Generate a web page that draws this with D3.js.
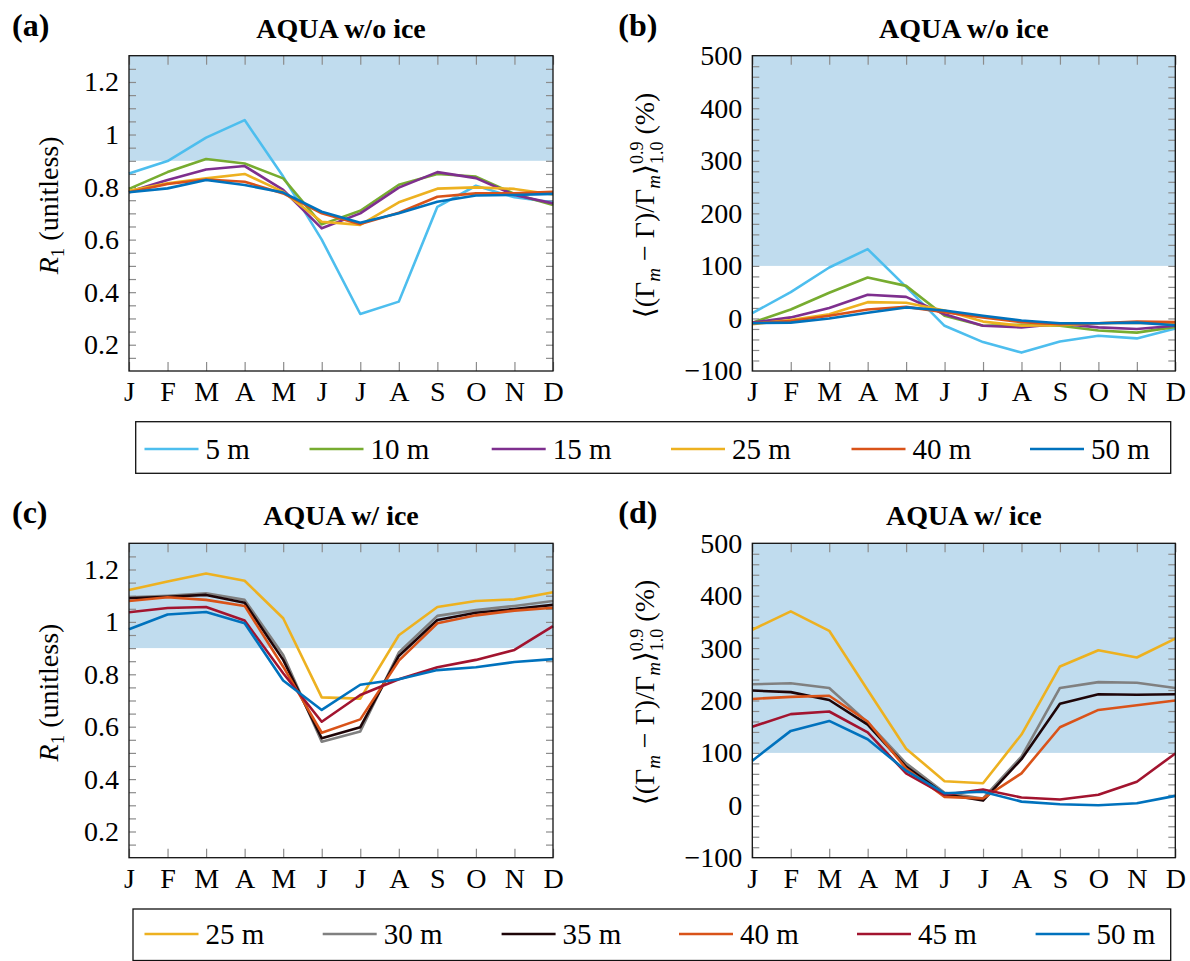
<!DOCTYPE html>
<html>
<head>
<meta charset="utf-8">
<script src="https://cdn.jsdelivr.net/npm/d3@7"></script>
<style>
  body { margin: 0; background: #fff; }
  svg text { font-family: "Liberation Serif", "Times New Roman", Times, "Nimbus Roman", "DejaVu Serif", "Noto Serif", serif; fill: #000; }
</style>
</head>
<body>
<div class="chart-box"></div>
<script>
// month labels on x
const months = ["J", "F", "M", "A", "M", "J", "J", "A", "S", "O", "N", "D"];
const r1Ticks = [0.2, 0.4, 0.6, 0.8, 1, 1.2];
const pctTicks = [-100, 0, 100, 200, 300, 400, 500];

// legends
const depthsNoIce = ["5 m", "10 m", "15 m", "25 m", "40 m", "50 m"];
const depthsIce = ["25 m", "30 m", "35 m", "40 m", "45 m", "50 m"];
const colorsNoIce = ["#4dbeee", "#77ac30", "#7e2f8e", "#edb120", "#d95319", "#0072bd"];
const colorsIce = ["#edb120", "#808080", "#1e0508", "#d95319", "#a2142f", "#0072bd"];

// (a) R1, AQUA w/o ice, one row per depth (5,10,15,25,40,50 m)
const r1NoIce = [
  [0.852, 0.899, 0.988, 1.055, 0.84, 0.60, 0.317, 0.364, 0.725, 0.805, 0.761, 0.742],
  [0.793, 0.857, 0.907, 0.890, 0.833, 0.658, 0.710, 0.809, 0.850, 0.840, 0.774, 0.732],
  [0.782, 0.827, 0.867, 0.880, 0.789, 0.643, 0.700, 0.798, 0.857, 0.834, 0.770, 0.738],
  [0.786, 0.814, 0.833, 0.850, 0.782, 0.668, 0.656, 0.742, 0.794, 0.799, 0.793, 0.772],
  [0.780, 0.812, 0.829, 0.820, 0.776, 0.700, 0.659, 0.702, 0.763, 0.776, 0.776, 0.782],
  [0.780, 0.795, 0.827, 0.808, 0.779, 0.706, 0.664, 0.700, 0.744, 0.768, 0.770, 0.774]
];
// (b) percentage, AQUA w/o ice
const pctNoIce = [
  [10, 50, 97, 132, 60, -14, -45, -65, -44, -33, -38, -19],
  [-8, 17, 49, 78, 62, 5, -14, -12, -14, -23, -27, -16],
  [-8, 2, 20, 45, 41, 8, -14, -17, -10, -17, -20, -14],
  [-11, -3, 8, 31, 30, 15, -6, -14, -13, -9, -8, -10],
  [-9, -5, 5, 17, 22, 12, 2, -7, -11, -9, -6, -7],
  [-9, -8, 0, 11, 21, 15, 5, -4, -9, -9, -8, -13]
];
// (c) R1, AQUA w/ ice (25,30,35,40,45,50 m)
const r1Ice = [
  [1.122, 1.154, 1.185, 1.157, 1.014, 0.712, 0.707, 0.949, 1.057, 1.080, 1.086, 1.113],
  [1.094, 1.100, 1.109, 1.084, 0.874, 0.543, 0.582, 0.883, 1.023, 1.045, 1.061, 1.080],
  [1.090, 1.096, 1.103, 1.073, 0.855, 0.556, 0.598, 0.870, 1.007, 1.035, 1.049, 1.065],
  [1.080, 1.094, 1.084, 1.061, 0.829, 0.577, 0.628, 0.852, 0.995, 1.025, 1.043, 1.054],
  [1.037, 1.053, 1.057, 1.005, 0.804, 0.619, 0.721, 0.781, 0.827, 0.855, 0.893, 0.984],
  [0.972, 1.028, 1.038, 0.995, 0.776, 0.664, 0.760, 0.781, 0.816, 0.827, 0.847, 0.858]
];
// (d) percentage, AQUA w/ ice
const pctIce = [
  [335, 370, 333, 220, 108, 46, 42, 135, 265, 296, 282, 318],
  [231, 233, 224, 158, 80, 24, 13, 93, 224, 235, 234, 224],
  [219, 216, 201, 154, 74, 21, 9, 88, 194, 212, 211, 212],
  [203, 207, 209, 160, 70, 16, 13, 61, 149, 182, 191, 200],
  [150, 174, 179, 139, 61, 20, 30, 15, 11, 20, 45, 99],
  [85, 142, 161, 126, 66, 23, 26, 7, 2, 0, 4, 18]
];

let width = 1190, height = 961;
let svg = d3.select(".chart-box")
  .append("svg")
  .attr("width", width)
  .attr("height", height);

const fontSize = 28;
const serif = "'Liberation Serif', 'Times New Roman', Times, 'Nimbus Roman', 'DejaVu Serif', 'Noto Serif', serif";

let drawPanel = function (p) {
  let x = d3.scalePoint().domain(d3.range(12)).range([p.x0, p.x1]);
  let y = d3.scaleLinear().domain(p.dom).range([p.y1, p.y0]);
  let g = svg.append("g");

  // shaded band above threshold
  g.append("rect")
    .attr("x", p.x0).attr("y", y(p.dom[1]))
    .attr("width", p.x1 - p.x0)
    .attr("height", y(p.shade) - y(p.dom[1]))
    .attr("fill", "#c0dcee");

  // minor y ticks, both sides
  let minor = d3.range(p.dom[0] + p.minor, p.dom[1] - p.minor / 2, p.minor);
  g.append("g").attr("transform", `translate(${p.x0},0)`)
    .call(d3.axisLeft(y).tickValues(minor).tickSizeInner(-7).tickSizeOuter(0).tickFormat(""));
  g.append("g").attr("transform", `translate(${p.x1},0)`)
    .call(d3.axisRight(y).tickValues(minor).tickSizeInner(-7).tickSizeOuter(0).tickFormat(""));
  // month ticks top & bottom
  g.append("g").attr("transform", `translate(0,${p.y0})`)
    .call(d3.axisTop(x).tickSizeInner(-9).tickSizeOuter(0).tickFormat(""));
  g.append("g").attr("transform", `translate(0,${p.y1})`)
    .call(d3.axisBottom(x).tickSizeInner(-9).tickSizeOuter(0).tickPadding(10)
      .tickFormat(i => months[i]));
  // y labels
  g.append("g").attr("transform", `translate(${p.x0},0)`)
    .call(d3.axisLeft(y).tickValues(p.ticks).tickSize(0).tickPadding(10)
      .tickFormat(p.fmt));

  g.selectAll(".domain").remove();
  g.selectAll(".tick line").attr("stroke", "#8c8c8c").attr("stroke-width", 1.2);
  g.selectAll("g").attr("font-family", serif);
  g.selectAll(".tick text")
    .style("font-family", serif)
    .attr("font-size", fontSize)
    .attr("fill", "#000");

  // series lines
  let line = d3.line().x((d, i) => x(i)).y(d => y(d));
  g.append("g").selectAll("path")
    .data(p.series)
    .enter()
    .append("path")
    .attr("d", line)
    .attr("fill", "none")
    .attr("stroke", (d, i) => p.colors[i])
    .attr("stroke-width", 2.6)
    .attr("stroke-linejoin", "round");

  // frame
  g.append("rect")
    .attr("x", p.x0).attr("y", p.y0)
    .attr("width", p.x1 - p.x0).attr("height", p.y1 - p.y0)
    .attr("fill", "none").attr("stroke", "#111").attr("stroke-width", 1.3);

  // title
  g.append("text")
    .attr("x", (p.x0 + p.x1) / 2).attr("y", p.y0 - 18)
    .attr("text-anchor", "middle")
    .style("font-family", serif)
    .attr("font-size", fontSize).attr("font-weight", "bold")
    .text(p.title);
  // panel letter
  g.append("text")
    .attr("x", p.x0 - p.letterDx).attr("y", p.y0 - 20)
    .style("font-family", serif)
    .attr("font-size", 32).attr("font-weight", "bold")
    .text(p.letter);

  // y axis label
  let cy = (p.y0 + p.y1) / 2 - 8;
  let lab = g.append("text")
    .attr("transform", `translate(${p.x0 - p.labelDx},${cy}) rotate(-90)`)
    .attr("text-anchor", "middle")
    .style("font-family", serif)
    .attr("font-size", fontSize);
  if (p.kind === "r1") {
    lab.append("tspan").attr("font-style", "italic").text("R");
    lab.append("tspan").attr("font-size", 19).attr("dy", 6).text("1");
    lab.append("tspan").attr("dy", -6).text(" (unitless)");
  } else {
    lab.append("tspan").text("\u27E8(\u0393");
    lab.append("tspan").attr("font-size", 19).attr("font-style", "italic").attr("dy", 6).text("m");
    lab.append("tspan").attr("dy", -6).text(" \u2212 \u0393)/\u0393");
    lab.append("tspan").attr("font-size", 19).attr("font-style", "italic").attr("dy", 6).text("m");
    lab.append("tspan").attr("dy", -6).text("\u27E9");
    lab.append("tspan").attr("font-size", 18).attr("dy", -11).text("0.9");
    lab.append("tspan").attr("font-size", 18).attr("dx", -22.5).attr("dy", 20).text("1.0");
    lab.append("tspan").attr("dy", -9).text(" (%)");
  }
};

let fmtR1 = d => String(+d.toFixed(1));
let fmtPct = d => (d < 0 ? "\u2212" + Math.abs(d) : String(d));

let panels = [
  { letter: "(a)", title: "AQUA w/o ice", kind: "r1", x0: 129, x1: 553, y0: 55.7, y1: 371,
    dom: [0.1, 1.3], shade: 0.9, minor: 0.05, ticks: r1Ticks, fmt: fmtR1,
    series: r1NoIce, colors: colorsNoIce, letterDx: 117, labelDx: 71 },
  { letter: "(b)", title: "AQUA w/o ice", kind: "pct", x0: 752.3, x1: 1175.3, y0: 55.7, y1: 371,
    dom: [-100, 500], shade: 100, minor: 20, ticks: pctTicks, fmt: fmtPct,
    series: pctNoIce, colors: colorsNoIce, letterDx: 134, labelDx: 98 },
  { letter: "(c)", title: "AQUA w/ ice", kind: "r1", x0: 129, x1: 553, y0: 543.3, y1: 857.7,
    dom: [0.1, 1.3], shade: 0.9, minor: 0.05, ticks: r1Ticks, fmt: fmtR1,
    series: r1Ice, colors: colorsIce, letterDx: 117, labelDx: 71 },
  { letter: "(d)", title: "AQUA w/ ice", kind: "pct", x0: 752.3, x1: 1175.3, y0: 543.3, y1: 857.7,
    dom: [-100, 500], shade: 100, minor: 20, ticks: pctTicks, fmt: fmtPct,
    series: pctIce, colors: colorsIce, letterDx: 134, labelDx: 98 }
];
panels.forEach(drawPanel);

// legends: item start positions follow the reference layout
let drawLegend = function (names, colors, box, lineY, starts) {
  let g = svg.append("g");
  g.append("rect")
    .attr("x", box[0]).attr("y", box[1])
    .attr("width", box[2] - box[0]).attr("height", box[3] - box[1])
    .attr("fill", "#fff").attr("stroke", "#111").attr("stroke-width", 1.3);
  names.forEach(function (n, i) {
    let xs = starts[i];
    g.append("line")
      .attr("x1", xs).attr("x2", xs + 54)
      .attr("y1", lineY).attr("y2", lineY)
      .attr("stroke", colors[i]).attr("stroke-width", 2.6);
    g.append("text")
      .attr("x", xs + 61).attr("y", lineY + 10)
      .style("font-family", serif)
      .attr("font-size", 29)
      .text(n);
  });
};
drawLegend(depthsNoIce, colorsNoIce, [135.7, 421.7, 1170.7, 473.3], 449,
  [144.5, 309.5, 491.7, 671, 851.5, 1030]);
drawLegend(depthsIce, colorsIce, [133, 909, 1170.7, 960.5], 934,
  [144.5, 322.7, 501.6, 679, 857, 1035.6]);
</script>
</body>
</html>
